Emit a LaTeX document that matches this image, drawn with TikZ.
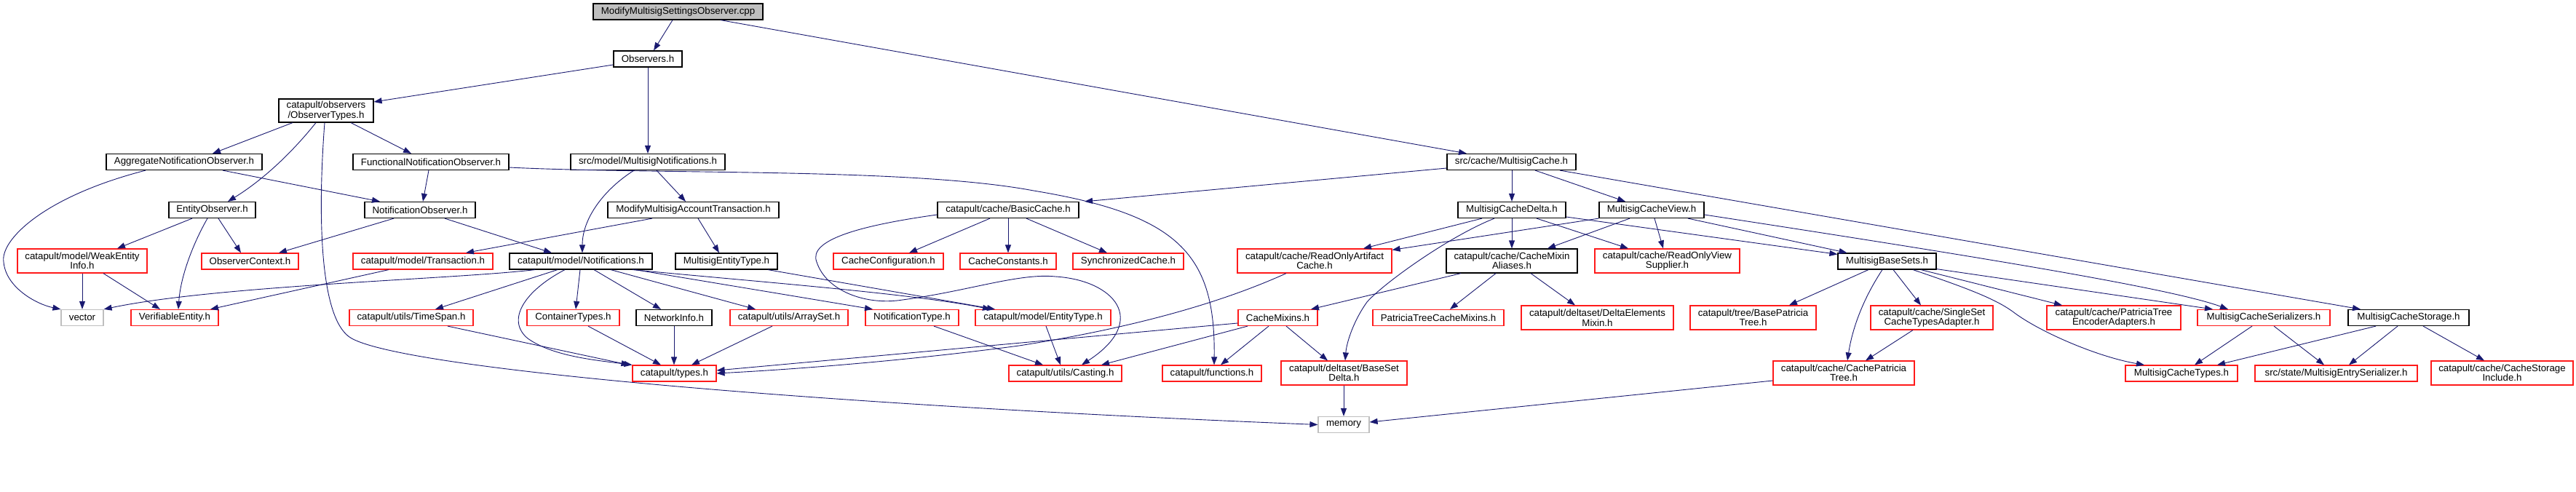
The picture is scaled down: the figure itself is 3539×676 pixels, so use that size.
\documentclass[tikz,border=0pt]{standalone}
\usepackage{fontspec}
\setmainfont{Liberation Sans}
\usetikzlibrary{arrows.meta}
\definecolor{edgec}{HTML}{191970}
\definecolor{grayb}{HTML}{BFBFBF}
\definecolor{boxred}{HTML}{FF1A1A}
\newcommand{\dfont}{\fontsize{13.3}{12}\selectfont}
\tikzset{
  nb/.style={draw=black, line width=1.2pt, inner sep=0pt, minimum height=22pt, font=\dfont, align=center, text=black},
  nr/.style={nb, draw=boxred},
  ng/.style={nb, draw=grayb},
  dep/.style={draw=edgec, line width=0.9pt, -{Triangle[length=11pt,width=8pt]}},
}
\begin{document}
\begin{tikzpicture}[x=1pt,y=-1pt]
\fill[white] (0,0) rectangle (3539,676);
\useasboundingbox (0,0) rectangle (3539,676);
% row 0-2
\node[nb, fill=grayb, minimum width=233pt] (main) at (931.5,16) {ModifyMultisigSettingsObserver.cpp};
\node[nb, minimum width=94pt] (obs) at (890,81) {Observers.h};
\node[nb, minimum width=130pt, minimum height=32pt] (otypes) at (448,152) {catapult/observers\\/ObserverTypes.h};
% row 3
\node[nb, minimum width=214pt] (aggr) at (253,222.5) {AggregateNotificationObserver.h};
\node[nb, minimum width=214pt] (func) at (592,222.5) {FunctionalNotificationObserver.h};
\node[nb, minimum width=212pt] (mnotif) at (890,222.5) {src/model/MultisigNotifications.h};
\node[nb, minimum width=177pt] (mcache) at (2076.5,222.5) {src/cache/MultisigCache.h};
% row 4
\node[nb, minimum width=119pt] (entobs) at (291.5,288.5) {EntityObserver.h};
\node[nb, minimum width=152pt] (notobs) at (577,288.5) {NotificationObserver.h};
\node[nb, minimum width=235pt] (mmat) at (952.5,288.5) {ModifyMultisigAccountTransaction.h};
\node[nb, minimum width=194pt] (basic) at (1385,288.5) {catapult/cache/BasicCache.h};
\node[nb, minimum width=148pt] (mcdelta) at (2077,288.5) {MultisigCacheDelta.h};
\node[nb, minimum width=144pt] (mcview) at (2269,288.5) {MultisigCacheView.h};
% row 5
\node[nr, minimum width=178pt, minimum height=33pt] (weak) at (113,358.5) {catapult/model/WeakEntity\\Info.h};
\node[nr, minimum width=133pt] (obsctx) at (343.5,359) {ObserverContext.h};
\node[nr, minimum width=192pt] (trans) at (581,359) {catapult/model/Transaction.h};
\node[nb, minimum width=196pt] (notifs) at (798,359) {catapult/model/Notifications.h};
\node[nb, minimum width=140pt] (metype) at (998,359) {MultisigEntityType.h};
\node[nr, minimum width=151pt] (cconf) at (1220.5,359) {CacheConfiguration.h};
\node[nr, minimum width=132pt] (cconst) at (1385,359) {CacheConstants.h};
\node[nr, minimum width=152pt] (sync) at (1550,359) {SynchronizedCache.h};
\node[nr, minimum width=212pt, minimum height=33pt] (roac) at (1806,358.5) {catapult/cache/ReadOnlyArtifact\\Cache.h};
\node[nb, minimum width=180pt, minimum height=33pt] (cmal) at (2077,358.5) {catapult/cache/CacheMixin\\Aliases.h};
\node[nr, minimum width=199pt, minimum height=33pt] (rovs) at (2290.5,358.5) {catapult/cache/ReadOnlyView\\Supplier.h};
\node[nb, minimum width=135pt] (mbs) at (2592.5,359) {MultisigBaseSets.h};
% row 6
\node[ng, minimum width=58pt] (vector) at (113,436.5) {vector};
\node[nr, minimum width=120pt] (verif) at (240,436.5) {VerifiableEntity.h};
\node[nr, minimum width=170pt] (timespan) at (565,436.5) {catapult/utils/TimeSpan.h};
\node[nr, minimum width=127pt] (cont) at (787.5,436.5) {ContainerTypes.h};
\node[nb, minimum width=104pt] (netinfo) at (926,436.5) {NetworkInfo.h};
\node[nr, minimum width=162pt] (arrayset) at (1084,436.5) {catapult/utils/ArraySet.h};
\node[nr, minimum width=128pt] (ntype) at (1253,436.5) {NotificationType.h};
\node[nr, minimum width=186pt] (etype) at (1433,436.5) {catapult/model/EntityType.h};
\node[nr, minimum width=109pt] (cmix) at (1755.5,436.5) {CacheMixins.h};
\node[nr, minimum width=180pt] (ptcm) at (1976,436.5) {PatriciaTreeCacheMixins.h};
\node[nr, minimum width=209pt, minimum height=33pt] (dem) at (2194.5,436.5) {catapult/deltaset/DeltaElements\\Mixin.h};
\node[nr, minimum width=173pt, minimum height=33pt] (bpt) at (2408.5,436.5) {catapult/tree/BasePatricia\\Tree.h};
\node[nr, minimum width=168pt, minimum height=33pt] (ssa) at (2654,436.5) {catapult/cache/SingleSet\\CacheTypesAdapter.h};
\node[nr, minimum width=184pt, minimum height=33pt] (pte) at (2904,436.5) {catapult/cache/PatriciaTree\\EncoderAdapters.h};
\node[nr, minimum width=182pt] (mcser) at (3110,436.5) {MultisigCacheSerializers.h};
\node[nb, minimum width=166pt] (mcstor) at (3309,436.5) {MultisigCacheStorage.h};
% row 7
\node[nr, minimum width=115pt] (types) at (926.5,513) {catapult/types.h};
\node[nr, minimum width=155pt] (casting) at (1463.5,513) {catapult/utils/Casting.h};
\node[nr, minimum width=136pt] (functions) at (1665,513) {catapult/functions.h};
\node[nr, minimum width=173pt, minimum height=33pt] (bsd) at (1846.5,512.5) {catapult/deltaset/BaseSet\\Delta.h};
\node[nr, minimum width=194pt, minimum height=33pt] (cpt) at (2533,512.5) {catapult/cache/CachePatricia\\Tree.h};
\node[nr, minimum width=154pt] (mctypes) at (2997,513) {MultisigCacheTypes.h};
\node[nr, minimum width=223pt] (mes) at (3209.5,513) {src/state/MultisigEntrySerializer.h};
\node[nr, minimum width=195pt, minimum height=33pt] (csi) at (3437.5,512.5) {catapult/cache/CacheStorage\\Include.h};
% row 8
\node[ng, minimum width=70pt] (memory) at (1846,583.5) {memory};

% edges
\draw[dep] ([xshift=-7.5pt]main.south) -- ([xshift=8pt]obs.north);
\draw[dep] ([xshift=58.5pt]main.south) -- ([xshift=-61.5pt]mcache.north);
\draw[dep] ([yshift=-8pt]obs.west) -- ([yshift=12pt]otypes.east);
\draw[dep] (obs.south) -- (mnotif.north);
\draw[dep] ([xshift=-46pt]otypes.south) -- ([xshift=39pt]aggr.north);
\draw[dep] ([xshift=-14pt]otypes.south) .. controls (405,205) and (365,245) .. ([xshift=21.5pt]entobs.north);
\draw[dep] ([xshift=34pt]otypes.south) -- ([xshift=-27pt]func.north);
\draw[dep] ([xshift=-2pt]otypes.south) .. controls (436,300) and (440,435) .. (480,463) .. controls (540,505) and (1100,555) .. (memory.west);
\draw[dep] ([xshift=-53pt]aggr.south) .. controls (60,270) and (0,330) .. (5,360) .. controls (8,395) and (50,418) .. (vector.north west);
\draw[dep] ([xshift=53pt]aggr.south) -- ([xshift=-55pt]notobs.north);
\draw[dep] ([xshift=-3pt]func.south) -- ([xshift=4pt]notobs.north);
\draw[dep] ([yshift=-7.5pt]func.east) .. controls (900,240) and (1250,230) .. (1420,262) .. controls (1620,295) and (1670,350) .. ([xshift=3pt]functions.north);
\draw[dep] ([xshift=-19pt]mnotif.south) .. controls (830,260) and (800,300) .. ([xshift=2pt]notifs.north);
\draw[dep] ([xshift=12pt]mnotif.south) -- ([xshift=-10.5pt]mmat.north);
\draw[dep] ([yshift=-8.5pt]mcache.west) -- ([xshift=105pt]basic.north);
\draw[dep] ([xshift=0.5pt]mcache.south) -- (mcdelta.north);
\draw[dep] ([xshift=32.5pt]mcache.south) -- ([xshift=-36pt]mcview.north);
\draw[dep] ([xshift=66.5pt]mcache.south) -- ([xshift=-66pt]mcstor.north);
\draw[dep] ([xshift=-27.5pt]entobs.south) -- ([xshift=48pt]weak.north);
\draw[dep] ([xshift=-6.5pt]entobs.south) .. controls (265,335) and (248,380) .. ([xshift=5pt]verif.north);
\draw[dep] ([xshift=8.5pt]entobs.south) -- ([xshift=-12.5pt]obsctx.north);
\draw[dep] ([xshift=-36pt]notobs.south) -- ([xshift=39.5pt]obsctx.north);
\draw[dep] ([xshift=34pt]notobs.south) -- ([xshift=-40pt]notifs.north);
\draw[dep] ([xshift=-56.5pt]mmat.south) -- ([xshift=59pt]trans.north);
\draw[dep] ([xshift=6.5pt]mmat.south) -- ([xshift=-10pt]metype.north);
\draw[dep] ([xshift=-25pt]basic.south) -- ([xshift=28.5pt]cconf.north);
\draw[dep] (basic.south) -- (cconst.north);
\draw[dep] ([xshift=25pt]basic.south) -- ([xshift=-29pt]sync.north);
\draw[dep] ([yshift=-6.5pt]basic.west) .. controls (1180,310) and (1110,330) .. (1122,360) .. controls (1135,400) and (1190,420) .. (1240,412) .. controls (1330,400) and (1400,375) .. (1450,380) .. controls (1530,385) and (1580,440) .. ([xshift=22.5pt]casting.north);
\draw[dep] ([xshift=-63pt]notifs.south) .. controls (620,384) and (300,392) .. (vector.north east);
\draw[dep] ([xshift=-32pt]notifs.south) -- ([xshift=33pt]timespan.north);
\draw[dep] ([xshift=-22pt]notifs.south) .. controls (720,400) and (695,440) .. (725,465) .. controls (760,490) and (820,495) .. ([xshift=-58pt]types.north);
\draw[dep] ([xshift=-1pt]notifs.south) -- ([xshift=3.5pt]cont.north);
\draw[dep] ([xshift=18pt]notifs.south) -- ([xshift=-18pt]netinfo.north);
\draw[dep] ([xshift=41pt]notifs.south) -- ([xshift=-46pt]arrayset.north);
\draw[dep] ([xshift=75pt]notifs.south) -- ([xshift=-54pt]ntype.north);
\draw[dep] ([xshift=71pt]notifs.south) .. controls (1050,388) and (1250,403) .. ([xshift=-72pt]etype.north);
\draw[dep] ([xshift=57pt]metype.south) -- ([xshift=-66pt]etype.north);
\draw[dep] ([xshift=-47pt]trans.south) -- ([xshift=49pt]verif.north);
\draw[dep] (weak.south) -- (vector.north);
\draw[dep] ([xshift=29pt]weak.south) -- ([xshift=-20pt]verif.north);
\draw[dep] ([xshift=50pt]timespan.south) -- ([xshift=-62pt]types.north);
\draw[dep] ([xshift=20.5pt]cont.south) -- ([xshift=-18.5pt]types.north);
\draw[dep] (netinfo.south) -- ([xshift=-0.5pt]types.north);
\draw[dep] ([xshift=-23pt]arrayset.south) -- ([xshift=23.5pt]types.north);
\draw[dep] ([yshift=-7.5pt]cmix.west) -- ([yshift=4pt]types.east);
\draw[dep] ([xshift=-39pt]roac.south) .. controls (1680,415) and (1560,450) .. (1400,475) .. controls (1250,495) and (1100,507) .. (types.east);
\draw[dep] ([xshift=30pt]ntype.south) -- ([xshift=-30.5pt]casting.north);
\draw[dep] ([xshift=4pt]etype.south) -- ([xshift=-6.5pt]casting.north);
\draw[dep] ([xshift=-41.5pt]cmix.south) -- ([xshift=49.5pt]casting.north);
\draw[dep] ([xshift=-12.5pt]cmix.south) -- ([xshift=12pt]functions.north);
\draw[dep] ([xshift=11.5pt]cmix.south) -- ([xshift=-22.5pt]bsd.north);
\draw[dep] ([xshift=-70pt]cmal.south) -- ([xshift=45.5pt]cmix.north);
\draw[dep] ([xshift=-22pt]cmal.south) -- ([xshift=16pt]ptcm.north);
\draw[dep] ([xshift=26pt]cmal.south) -- ([xshift=-30.5pt]dem.north);
\draw[dep] ([xshift=-41pt]mcdelta.south) -- ([xshift=67pt]roac.north);
\draw[dep] ([xshift=-24pt]mcdelta.south) .. controls (1990,325) and (1900,390) .. (1878,415) .. controls (1860,440) and (1850,470) .. ([xshift=1.5pt]bsd.north);
\draw[dep] (mcdelta.south) -- (cmal.north);
\draw[dep] ([xshift=34pt]mcdelta.south) -- ([xshift=-53.5pt]rovs.north);
\draw[dep] ([yshift=-9.5pt]mcdelta.east) -- ([yshift=-2pt]mbs.north west);
\draw[dep] (mcview.south west) -- ([yshift=-2pt]roac.north east);
\draw[dep] ([xshift=-30pt]mcview.south) -- ([xshift=49pt]cmal.north);
\draw[dep] ([xshift=4pt]mcview.south) -- ([xshift=-5.5pt]rovs.north);
\draw[dep] ([xshift=50pt]mcview.south) -- ([xshift=-55pt]mbs.north);
\draw[dep] ([yshift=-6.5pt]mcview.east) .. controls (2700,350) and (2980,395) .. ([xshift=-49pt]mcser.north);
\draw[dep] ([xshift=-25.5pt]mbs.south) -- ([xshift=49.5pt]bpt.north);
\draw[dep] ([xshift=-6.5pt]mbs.south) .. controls (2560,410) and (2545,450) .. ([xshift=5pt]cpt.north);
\draw[dep] ([xshift=8.5pt]mbs.south) -- ([xshift=-15pt]ssa.north);
\draw[dep] ([xshift=35.5pt]mbs.south) .. controls (2700,395) and (2740,410) .. (2765,428) .. controls (2800,455) and (2880,490) .. ([xshift=-51pt]mctypes.north);
\draw[dep] ([xshift=46.5pt]mbs.south) -- ([xshift=-71pt]pte.north);
\draw[dep] ([yshift=1pt]mbs.south east) -- ([xshift=-70pt]mcser.north);
\draw[dep] ([xshift=-26pt]ssa.south) -- ([xshift=30pt]cpt.north);
\draw[dep] ([yshift=-10.5pt]cpt.west) -- ([yshift=3.5pt]memory.east);
\draw[dep] ([xshift=-0.5pt]bsd.south) -- (memory.north);
\draw[dep] ([xshift=-16pt]mcser.south) -- ([xshift=18pt]mctypes.north);
\draw[dep] ([xshift=14pt]mcser.south) -- ([xshift=-16.5pt]mes.north);
\draw[dep] ([xshift=-45pt]mcstor.south) -- ([xshift=49pt]mctypes.north);
\draw[dep] ([xshift=-15pt]mcstor.south) -- ([xshift=17.5pt]mes.north);
\draw[dep] ([xshift=20pt]mcstor.south) -- ([xshift=-24.5pt]csi.north);
\end{tikzpicture}
\end{document}
